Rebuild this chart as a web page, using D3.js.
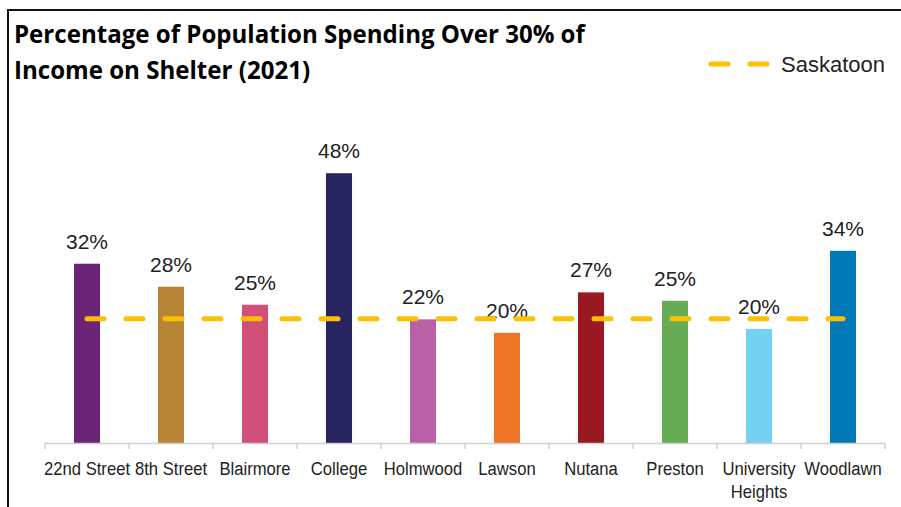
<!DOCTYPE html>
<html>
<head>
<meta charset="utf-8">
<script src="https://cdn.jsdelivr.net/npm/d3@7"></script>
<style>
  html, body { margin: 0; padding: 0; background: #fff; }
  svg { display: block; }
</style>
</head>
<body>
<svg id="chart" width="901" height="507"></svg>
<script>
// Neighbourhoods and share of residents spending over 30% of income on shelter
const categories = ["22nd Street", "8th Street", "Blairmore", "College", "Holmwood",
                    "Lawson", "Nutana", "Preston", "University Heights", "Woodlawn"];
const values = [31.9, 27.8, 24.6, 48.0, 22.0, 19.6, 26.8, 25.3, 20.3, 34.2];
const barColors = ["#6B2577", "#B88435", "#D14F78", "#282461", "#B961A6",
                   "#F07427", "#9A1A24", "#68AB55", "#75D1F2", "#0079B8"];
const cityName = "Saskatoon";
const cityValue = 22.1;
const titleLines = ["Percentage of Population Spending Over 30% of", "Income on Shelter (2021)"];

const svg = d3.select("#chart");
const W = 901, H = 507;
const plot = { left: 45, right: 885, top: 162, bottom: 443 };
const sans = "'Liberation Sans', Arial, sans-serif";

// Frame
svg.append("line").attr("x1", 8).attr("x2", W).attr("y1", 10).attr("y2", 10)
  .attr("stroke", "#111").attr("stroke-width", 2);
svg.append("line").attr("x1", 8).attr("x2", 8).attr("y1", 9).attr("y2", H)
  .attr("stroke", "#111").attr("stroke-width", 2);

// Title: size the font so the first line spans the heading width
const title = svg.append("text")
  .attr("x", 14).attr("y", 43)
  .attr("font-family", "'Open Sans', Lato, sans-serif")
  .attr("font-weight", 700).attr("font-size", 22).attr("fill", "#000");
title.selectAll("tspan").data(titleLines).join("tspan")
  .attr("x", 14).attr("dy", (d, i) => i === 0 ? 0 : 36)
  .text(d => d);
const firstLen = title.select("tspan").node().getComputedTextLength();
title.attr("font-size", 22 * 571 / firstLen);

const x = d3.scaleBand().domain(categories).range([plot.left, plot.right]).paddingInner(0.69).paddingOuter(0.345);
const y = d3.scaleLinear().domain([0, 50]).range([plot.bottom, plot.top]);
const band = d3.scaleBand().domain(categories).range([plot.left, plot.right]);

// Bars
svg.append("g").selectAll("rect").data(categories).join("rect")
  .attr("x", d => x(d))
  .attr("width", x.bandwidth())
  .attr("y", (d, i) => y(values[i]))
  .attr("height", (d, i) => y(0) - y(values[i]))
  .attr("fill", (d, i) => barColors[i]);

// Value labels
svg.append("g").selectAll("text").data(categories).join("text")
  .attr("x", d => x(d) + x.bandwidth() / 2)
  .attr("y", (d, i) => y(values[i]) - 15)
  .attr("text-anchor", "middle")
  .attr("font-family", sans)
  .attr("font-size", 21).attr("fill", "#222")
  .text((d, i) => Math.round(values[i]) + "%");

// Category axis
const axis = svg.append("g").attr("transform", `translate(0,${plot.bottom})`)
  .call(d3.axisBottom(band).tickSize(0).tickPadding(0));
axis.select(".domain").attr("stroke", "#D0D0D0").attr("stroke-width", 1.5);
axis.selectAll(".tick text").remove();
// boundary ticks between categories
const bounds = categories.map(c => band(c)).concat([plot.right]);
axis.selectAll("line.sep").data(bounds).join("line").attr("class", "sep")
  .attr("x1", d => d).attr("x2", d => d).attr("y1", 0).attr("y2", 6)
  .attr("stroke", "#D0D0D0").attr("stroke-width", 1.5);

// Category labels (wrapped, slightly condensed)
const labelG = svg.append("g");
categories.forEach(c => {
  const words = c === "University Heights" ? ["University", "Heights"] : [c];
  const cx = band(c) + band.bandwidth() / 2;
  const t = labelG.append("text")
    .attr("transform", `translate(${cx},475) scale(0.9,1)`)
    .attr("text-anchor", "middle")
    .attr("font-family", sans)
    .attr("font-size", 18.5).attr("fill", "#222");
  words.forEach((w, i) => t.append("tspan")
    .attr("x", 0).attr("dy", i === 0 ? 0 : 23).text(w));
});

// City average line
const cx0 = band(categories[0]) + band.bandwidth() / 2;
const cx1 = band(categories[categories.length - 1]) + band.bandwidth() / 2;
svg.append("line")
  .attr("x1", cx0).attr("x2", cx1)
  .attr("y1", y(cityValue)).attr("y2", y(cityValue))
  .attr("stroke", "#FFC000").attr("stroke-width", 5)
  .attr("stroke-linecap", "round")
  .attr("stroke-dasharray", "17 22");

// Legend
svg.append("line")
  .attr("x1", 711).attr("x2", 767).attr("y1", 64).attr("y2", 64)
  .attr("stroke", "#FFC000").attr("stroke-width", 5)
  .attr("stroke-linecap", "round")
  .attr("stroke-dasharray", "17 22");
svg.append("text")
  .attr("x", 781).attr("y", 72)
  .attr("font-family", sans)
  .attr("font-size", 22).attr("fill", "#222")
  .text(cityName);
</script>
</body>
</html>
